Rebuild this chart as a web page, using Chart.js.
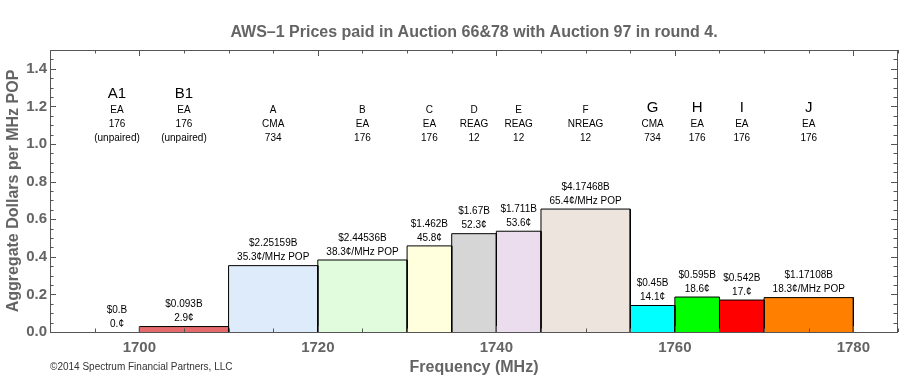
<!DOCTYPE html>
<html><head><meta charset="utf-8">
<script src="https://cdn.jsdelivr.net/npm/chart.js@4.4.1/dist/chart.umd.min.js"></script>
<style>html,body{margin:0;padding:0;background:#fff}#wrap{width:900px;height:380px}</style>
</head><body><div id="wrap"><canvas id="c" width="900" height="380"></canvas></div>
<script>
// ---- data ----
const chartTitle = 'AWS–1 Prices paid in Auction 66&78 with Auction 97 in round 4.';
const xAxisTitle = 'Frequency (MHz)';
const yAxisTitle = 'Aggregate Dollars per MHz POP';
const copyrightText = '©2014 Spectrum Financial Partners, LLC';

const blockNames = ['A1','B1','A','B','C','D','E','F','G','H','I','J'];
const startMHz = [1695,1700,1710,1720,1730,1735,1740,1745,1755,1760,1765,1770];
const endMHz   = [1700,1710,1720,1730,1735,1740,1745,1755,1760,1765,1770,1780];
const pricePerMHzPop = [0,0.029,0.353,0.383,0.458,0.523,0.536,0.654,0.141,0.186,0.170,0.183];
const totalPriceLabels = ['$0.B','$0.093B','$2.25159B','$2.44536B','$1.462B','$1.67B','$1.711B','$4.17468B','$0.45B','$0.595B','$0.542B','$1.17108B'];
const centLabels = ['0.¢','2.9¢','35.3¢/MHz POP','38.3¢/MHz POP','45.8¢','52.3¢','53.6¢','65.4¢/MHz POP','14.1¢','18.6¢','17.¢','18.3¢/MHz POP'];
const areaTypes = ['EA','EA','CMA','EA','EA','REAG','REAG','NREAG','CMA','EA','EA','EA'];
const licenseCounts = ['176','176','734','176','176','12','12','12','734','176','176','176'];
const blockNotes = ['(unpaired)','(unpaired)','','','','','','','','','',''];

const xTickValues = [1700,1720,1740,1760,1780];
const yTickValues = [0,0.2,0.4,0.6,0.8,1.0,1.2,1.4];

// ---- style ----
const blockColors = ['#E6696B','#E6696B','#DDEBFB','#E0FCDD','#FFFFDD','#D6D6D6','#EBDDEE','#EDE4DD','#00FFFF','#00FF00','#FF0000','#FF8000'];
const bigLabelBlocks = new Set(['A1','B1','G','H','I','J']);
const FONT = '"Liberation Sans", Arial, Helvetica, sans-serif';
const GRAY = '#646464';
const FRAME = '#555555';

const datasets = blockNames.map((name, i) => ({
  label: name,
  data: [
    {x: startMHz[i], y: 0},
    {x: startMHz[i], y: pricePerMHzPop[i]},
    {x: endMHz[i], y: pricePerMHzPop[i]},
    {x: endMHz[i], y: 0}
  ],
  fill: 'origin',
  backgroundColor: blockColors[i],
  borderColor: '#000',
  borderWidth: pricePerMHzPop[i] > 0 ? 1 : 0,
  pointRadius: 0,
  tension: 0
}));

const framePlugin = {
  id: 'framePlugin',
  afterDatasetsDraw(chart) {
    const {ctx, chartArea: a, scales: {x, y}} = chart;
    ctx.save();
    ctx.strokeStyle = FRAME;
    ctx.lineWidth = 1;
    ctx.strokeRect(Math.round(a.left) + 0.5, Math.round(a.top) + 0.5, Math.round(a.right - a.left) - 1, Math.round(a.bottom - a.top));
    ctx.beginPath();
    for (let v = 1695; v <= 1785; v += 5) {
      const px = Math.round(x.getPixelForValue(v)) + 0.5;
      const len = xTickValues.includes(v) ? 6 : 3.5;
      ctx.moveTo(px, a.bottom); ctx.lineTo(px, a.bottom - len);
      ctx.moveTo(px, a.top); ctx.lineTo(px, a.top + len);
    }
    for (let k = 0; k <= 29; k++) {
      const v = k * 0.05;
      const py = Math.round(y.getPixelForValue(v)) + 0.5;
      const len = (k % 4 === 0) ? 6 : 3.5;
      ctx.moveTo(a.left, py); ctx.lineTo(a.left + len, py);
      ctx.moveTo(a.right - 1, py); ctx.lineTo(a.right - 1 - len, py);
    }
    ctx.stroke();

    ctx.fillStyle = '#000';
    ctx.textAlign = 'center';
    ctx.textBaseline = 'middle';
    const bottomLineY = y.getPixelForValue(1.0) - 6;
    blockNames.forEach((name, i) => {
      const cx = x.getPixelForValue((startMHz[i] + endMHz[i]) / 2);
      const top = y.getPixelForValue(pricePerMHzPop[i]);
      ctx.font = '10px ' + FONT;
      ctx.fillText(totalPriceLabels[i], cx, top - 22);
      ctx.fillText(centLabels[i], cx, top - 8);
      const lines = [areaTypes[i], licenseCounts[i]];
      if (blockNotes[i]) lines.push(blockNotes[i]);
      const ly = bottomLineY - (lines.length - 1) * 14;
      lines.forEach((t, k) => ctx.fillText(t, cx, ly + k * 14));
      if (bigLabelBlocks.has(name)) {
        ctx.font = '15px ' + FONT;
        ctx.fillText(name, cx, ly - 16.5);
      } else {
        ctx.fillText(name, cx, ly - 14);
      }
    });

    ctx.fillStyle = GRAY;
    ctx.font = 'bold 16px ' + FONT;
    ctx.fillText(chartTitle, (a.left + a.right) / 2, 33);
    ctx.fillText(xAxisTitle, (a.left + a.right) / 2, 368);
    ctx.fillStyle = '#333';
    ctx.font = '10px ' + FONT;
    ctx.textAlign = 'left';
    ctx.fillText(copyrightText, a.left, 367);
    ctx.restore();
  }
};

new Chart(document.getElementById('c'), {
  type: 'line',
  data: { datasets },
  options: {
    responsive: false,
    animation: false,
    layout: { padding: { top: 50, right: 2, left: 2, bottom: 16 } },
    plugins: { legend: { display: false }, tooltip: { enabled: false }, title: { display: false } },
    scales: {
      x: {
        type: 'linear', min: 1690, max: 1785,
        afterBuildTicks: s => { s.ticks = xTickValues.map(v => ({value: v})); },
        grid: { display: false, drawTicks: false },
        border: { display: false },
        ticks: { color: GRAY, font: { family: FONT, size: 15, weight: 'bold' }, padding: 7, maxRotation: 0, autoSkip: false, callback: v => String(v) },
        title: { display: false }
      },
      y: {
        type: 'linear', min: 0, max: 1.5,
        afterBuildTicks: s => { s.ticks = yTickValues.map(v => ({value: v})); },
        grid: { display: false, drawTicks: false },
        border: { display: false },
        ticks: { color: GRAY, font: { family: FONT, size: 15, weight: 'bold' }, padding: 3, callback: v => Number(v).toFixed(1) },
        title: { display: true, text: yAxisTitle, color: GRAY, font: { family: FONT, size: 16, weight: 'bold' }, padding: { top: 2, bottom: 0 } }
      }
    }
  },
  plugins: [framePlugin]
});
</script>
</body></html>
